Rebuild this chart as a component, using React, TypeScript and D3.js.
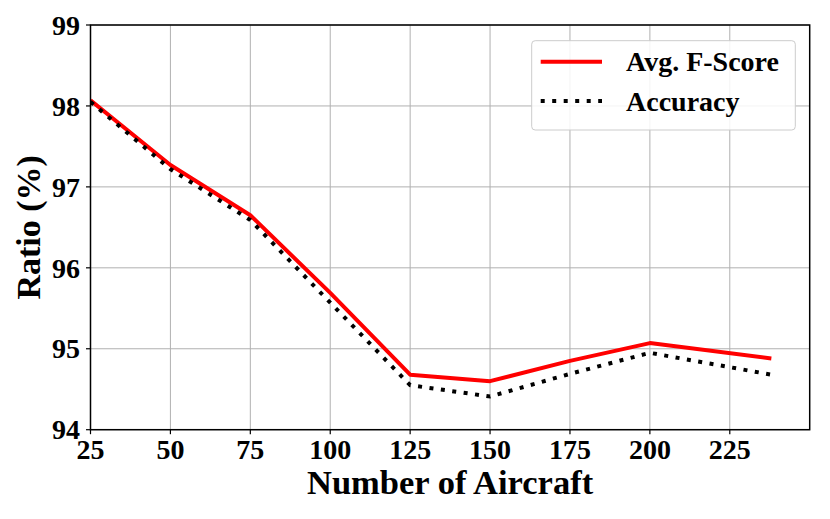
import React, { useEffect, useRef } from "react";
import * as d3 from "d3";

const xValues = [25, 50, 75, 100, 125, 150, 175, 200, 238];
const fScore = [98.07, 97.27, 96.65, 95.69, 94.68, 94.6, 94.85, 95.07, 94.88];
const accuracy = [98.05, 97.22, 96.59, 95.57, 94.55, 94.41, 94.69, 94.95, 94.68];
const xTicks = [25, 50, 75, 100, 125, 150, 175, 200, 225];
const yTicks = [94, 95, 96, 97, 98, 99];
const seriesNames = ["Avg. F-Score", "Accuracy"];

const W = 830;
const H = 519;
const M = { left: 90.5, right: 809.7, top: 25, bottom: 429.7 };
const FONT = "'Liberation Serif', 'Times New Roman', serif";

export default function App() {
  const ref = useRef<SVGSVGElement | null>(null);

  useEffect(() => {
    const svg = d3.select(ref.current);
    svg.selectAll("*").remove();

    const x = d3.scaleLinear().domain([25, 250]).range([M.left, M.right]);
    const y = d3.scaleLinear().domain([94, 99]).range([M.bottom, M.top]);

    svg.append("rect").attr("width", W).attr("height", H).attr("fill", "#fff");

    // grid
    const grid = svg.append("g").attr("stroke", "#b0b0b0").attr("stroke-width", 1);
    xTicks.forEach((t) => {
      grid.append("line").attr("x1", x(t)).attr("x2", x(t)).attr("y1", M.top).attr("y2", M.bottom);
    });
    yTicks.forEach((t) => {
      grid.append("line").attr("x1", M.left).attr("x2", M.right).attr("y1", y(t)).attr("y2", y(t));
    });

    // lines
    const line = d3
      .line<[number, number]>()
      .x((d) => x(d[0]))
      .y((d) => y(d[1]));

    const dataF: [number, number][] = xValues.map((v, i) => [v, fScore[i]]);
    const dataA: [number, number][] = xValues.map((v, i) => [v, accuracy[i]]);

    const clip = svg.append("defs").append("clipPath").attr("id", "plotclip");
    clip.append("rect").attr("x", M.left).attr("y", M.top).attr("width", M.right - M.left).attr("height", M.bottom - M.top);

    const plot = svg.append("g").attr("clip-path", "url(#plotclip)");
    plot
      .append("path")
      .datum(dataF)
      .attr("d", line)
      .attr("fill", "none")
      .attr("stroke", "#ff0000")
      .attr("stroke-width", 4)
      .attr("stroke-linejoin", "round");
    plot
      .append("path")
      .datum(dataA)
      .attr("d", line)
      .attr("fill", "none")
      .attr("stroke", "#000")
      .attr("stroke-width", 4)
      .attr("stroke-dasharray", "4,7.5");

    // spines
    svg
      .append("rect")
      .attr("x", M.left)
      .attr("y", M.top)
      .attr("width", M.right - M.left)
      .attr("height", M.bottom - M.top)
      .attr("fill", "none")
      .attr("stroke", "#000")
      .attr("stroke-width", 1.5);

    // ticks
    const tg = svg.append("g").attr("stroke", "#000").attr("stroke-width", 1.2);
    xTicks.forEach((t) => {
      tg.append("line").attr("x1", x(t)).attr("x2", x(t)).attr("y1", M.bottom).attr("y2", M.bottom + 4.5);
    });
    yTicks.forEach((t) => {
      tg.append("line").attr("x1", M.left - 4.5).attr("x2", M.left).attr("y1", y(t)).attr("y2", y(t));
    });

    const txt = svg.append("g").attr("font-family", FONT).attr("font-weight", "bold").attr("fill", "#000");
    xTicks.forEach((t) => {
      txt
        .append("text")
        .attr("x", x(t))
        .attr("y", 459)
        .attr("text-anchor", "middle")
        .attr("font-size", 28)
        .text(String(t));
    });
    yTicks.forEach((t) => {
      txt
        .append("text")
        .attr("x", 80)
        .attr("y", y(t) + 9.7)
        .attr("text-anchor", "end")
        .attr("font-size", 28)
        .text(String(t));
    });

    txt
      .append("text")
      .attr("x", (M.left + M.right) / 2)
      .attr("y", 494)
      .attr("text-anchor", "middle")
      .attr("font-size", 34.5)
      .text("Number of Aircraft");

    txt
      .append("text")
      .attr("transform", `translate(40, ${(M.top + M.bottom) / 2}) rotate(-90)`)
      .attr("text-anchor", "middle")
      .attr("font-size", 34)
      .text("Ratio (%)");

    // legend
    const lg = svg.append("g");
    lg.append("rect")
      .attr("x", 531.7)
      .attr("y", 40.7)
      .attr("width", 795.3 - 531.7)
      .attr("height", 130 - 40.7)
      .attr("rx", 3.5)
      .attr("fill", "rgba(255,255,255,0.85)")
      .attr("stroke", "#cccccc")
      .attr("stroke-width", 1);
    const rows = [
      { y: 61.7, stroke: "#ff0000", dash: null as string | null },
      { y: 101, stroke: "#000", dash: "4,7.5" },
    ];
    rows.forEach((r, i) => {
      const l = lg
        .append("line")
        .attr("x1", 540.7)
        .attr("x2", 602)
        .attr("y1", r.y)
        .attr("y2", r.y)
        .attr("stroke", r.stroke)
        .attr("stroke-width", 4);
      if (r.dash) l.attr("stroke-dasharray", r.dash);
      lg.append("text")
        .attr("x", 626)
        .attr("y", r.y + 9.5)
        .attr("font-family", FONT)
        .attr("font-weight", "bold")
        .attr("font-size", 28)
        .text(seriesNames[i]);
    });
  }, []);

  return (
    <svg
      ref={ref}
      width={W}
      height={H}
      style={{ position: "absolute", left: 0, top: 0, display: "block" }}
    />
  );
}
